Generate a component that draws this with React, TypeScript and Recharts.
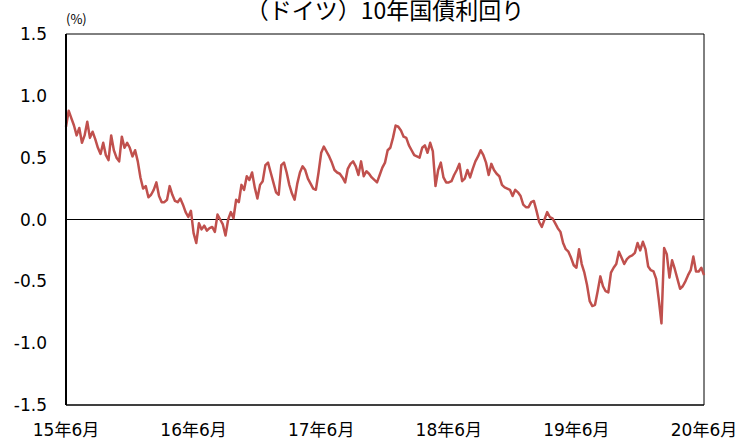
import React from "react";
import {
  LineChart,
  Line,
  XAxis,
  YAxis,
  ReferenceLine,
  ReferenceArea,
} from "recharts";

// German 10y bund yield, ~4 samples per month (Jun 2015 - Jun 2020)
const yields = [
  0.75, 0.88, 0.82, 0.76, 0.68, 0.74, 0.62, 0.68, 0.79, 0.66,
  0.71, 0.65, 0.58, 0.53, 0.62, 0.52, 0.48, 0.68, 0.56, 0.5,
  0.47, 0.67, 0.58, 0.62, 0.58, 0.51, 0.56, 0.47, 0.34, 0.25,
  0.27, 0.18, 0.2, 0.24, 0.3, 0.19, 0.14, 0.14, 0.16, 0.27,
  0.2, 0.15, 0.14, 0.17, 0.12, 0.06, 0.02, 0.07, -0.11, -0.19,
  -0.03, -0.08, -0.05, -0.09, -0.07, -0.06, -0.1, 0.04, 0.0, -0.04,
  -0.13, 0.0, 0.06, 0.01, 0.16, 0.14, 0.28, 0.24, 0.35, 0.32,
  0.38, 0.26, 0.17, 0.28, 0.31, 0.44, 0.46, 0.38, 0.3, 0.22,
  0.2, 0.44, 0.46, 0.38, 0.28, 0.21, 0.16, 0.29, 0.38, 0.43,
  0.4, 0.33, 0.29, 0.25, 0.24, 0.38, 0.54, 0.59, 0.55, 0.51,
  0.46, 0.4, 0.38, 0.37, 0.34, 0.3, 0.41, 0.45, 0.47, 0.43,
  0.36, 0.47, 0.35, 0.39, 0.37, 0.34, 0.32, 0.3, 0.36, 0.42,
  0.46, 0.56, 0.58, 0.66, 0.76, 0.75, 0.72, 0.67, 0.66, 0.6,
  0.56, 0.52, 0.51, 0.5, 0.58, 0.6, 0.54, 0.62, 0.55, 0.27,
  0.4, 0.46, 0.34, 0.3, 0.3, 0.31, 0.36, 0.4, 0.45, 0.31,
  0.33, 0.4, 0.34, 0.41, 0.47, 0.51, 0.56, 0.52, 0.46, 0.36,
  0.45, 0.4, 0.37, 0.35, 0.28, 0.26, 0.25, 0.24, 0.19, 0.24,
  0.22, 0.19, 0.12, 0.1, 0.1, 0.14, 0.15, 0.07, -0.02, -0.06,
  0.0, 0.06, 0.02, 0.01, -0.03, -0.07, -0.1, -0.19, -0.24, -0.26,
  -0.31, -0.37, -0.39, -0.24, -0.36, -0.43, -0.53, -0.66, -0.7, -0.69,
  -0.58, -0.46, -0.54, -0.58, -0.59, -0.43, -0.39, -0.36, -0.26, -0.31,
  -0.36, -0.32, -0.3, -0.29, -0.27, -0.19, -0.25, -0.18, -0.24, -0.38,
  -0.41, -0.42, -0.48, -0.65, -0.84, -0.23, -0.28, -0.47, -0.33, -0.4,
  -0.48, -0.56, -0.54, -0.5, -0.45, -0.41, -0.3, -0.42, -0.42, -0.39,
  -0.45,
];

const xTickLabels = ["15年6月", "16年6月", "17年6月", "18年6月", "19年6月", "20年6月"];
const yTicks = [-1.5, -1.0, -0.5, 0.0, 0.5, 1.0, 1.5];

const data = yields.map((v, i) => ({ i, v }));
const last = yields.length - 1;
const xTicks = xTickLabels.map((_, k) => k * 48);

const font = "'DejaVu Sans', 'Noto Sans CJK JP', sans-serif";

export default function App() {
  return (
    <div style={{ position: "absolute", left: 0, top: 0, width: 735, height: 443, background: "#fff" }}>
      <div
        style={{
          position: "absolute",
          left: 66,
          width: 638,
          top: -6,
          textAlign: "center",
          fontFamily: "'Noto Sans CJK JP', sans-serif",
          fontSize: 23,
          color: "#000",
          lineHeight: "30px",
        }}
      >
        （ドイツ）10年国債利回り
      </div>
      <div
        style={{
          position: "absolute",
          left: 66,
          top: 10,
          fontFamily: "'Noto Sans CJK JP', sans-serif",
          fontSize: 13,
          color: "#000",
          lineHeight: "18px",
        }}
      >
        (%)
      </div>
      <LineChart
        width={735}
        height={443}
        data={data}
        margin={{ top: 34, right: 31, bottom: 0, left: 0 }}
      >
        <XAxis
          dataKey="i"
          type="number"
          domain={[0, last]}
          ticks={xTicks}
          tickFormatter={(v: number) => xTickLabels[Math.round(v / 48)]}
          interval={0}
          height={38}
          tickLine={false}
          tickSize={0}
          tickMargin={19}
          axisLine={{ stroke: "#000" }}
          tick={{ fill: "#000", fontSize: 17, fontFamily: font }}
        />
        <YAxis
          type="number"
          domain={[-1.5, 1.5]}
          ticks={yTicks}
          tickFormatter={(v: number) => v.toFixed(1)}
          width={66}
          tickLine={false}
          tickSize={0}
          tickMargin={19}
          axisLine={{ stroke: "#000", strokeWidth: 2 }}
          tick={{ fill: "#000", fontSize: 17, fontFamily: font }}
        />
        <ReferenceArea
          x1={0}
          x2={last}
          y1={-1.5}
          y2={1.5}
          fill="none"
          stroke="#000"
          strokeWidth={1}
          ifOverflow="visible"
        />
        <ReferenceLine y={0} stroke="#000" strokeWidth={1} />
        <Line
          type="linear"
          dataKey="v"
          stroke="#C0504D"
          strokeWidth={2.5}
          strokeLinejoin="round"
          dot={false}
          isAnimationActive={false}
        />
      </LineChart>
    </div>
  );
}
